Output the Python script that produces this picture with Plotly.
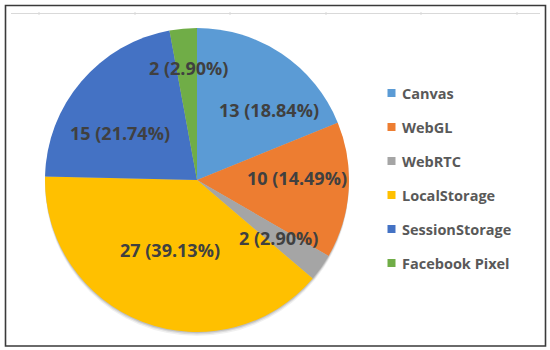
import math
import plotly.graph_objects as go

labels = ["Canvas", "WebGL", "WebRTC", "LocalStorage", "SessionStorage", "Facebook Pixel"]
values = [13, 10, 2, 27, 15, 2]
colors = ["#5B9BD5", "#ED7D31", "#A5A5A5", "#FFC000", "#4472C4", "#70AD47"]
# style: data label placement (fraction of radius, angular nudge in degrees)
label_radius = [0.66, 0.66, 0.66, 0.49, 0.59, 0.74]
label_nudge = [12, -5, 0, 0, -9, 1]

W, H = 550, 350
cx, cy, R = 197, 180, 152  # pixel geometry of pie
FONT = "Open Sans"


def px(x):
    return x / W


def py(y):
    return 1 - y / H


fig = go.Figure()
fig.add_trace(go.Pie(
    labels=labels,
    values=values,
    sort=False,
    direction="clockwise",
    rotation=0,
    marker=dict(colors=colors, line=dict(width=0)),
    textinfo="none",
    hoverinfo="label+value+percent",
    showlegend=False,
    domain=dict(x=[px(cx - R), px(cx + R)], y=[py(cy + R), py(cy - R)]),
))

annotations = []
total = sum(values)
cum = 0
for v, rf, nd in zip(values, label_radius, label_nudge):
    mid = (cum + v / 2) / total * 2 * math.pi + math.radians(nd)
    cum += v
    x = cx + rf * R * math.sin(mid)
    y = cy - rf * R * math.cos(mid)
    annotations.append(dict(
        x=px(x), y=py(y), xref="paper", yref="paper",
        text=f"{v} ({v / total * 100:.2f}%)", showarrow=False,
        font=dict(family=FONT, size=18, color="#404040", weight="bold"),
        xanchor="center", yanchor="middle",
    ))

shapes = []
# shadow under pie
for off, op in [(4, 0.06), (2.5, 0.09), (1.2, 0.12)]:
    shapes.append(dict(type="circle", xref="paper", yref="paper",
                       x0=px(cx - R), x1=px(cx + R),
                       y0=py(cy + R + off), y1=py(cy - R + off),
                       fillcolor=f"rgba(0,0,0,{op})", line=dict(width=0), layer="below"))

# custom legend
ly0, lstep = 93, 34
for i, (lab, col) in enumerate(zip(labels, colors)):
    y = ly0 + i * lstep
    shapes.append(dict(type="rect", xref="paper", yref="paper",
                       x0=px(387.5), x1=px(395.5), y0=py(y + 4), y1=py(y - 4),
                       fillcolor=col, line=dict(width=0)))
    annotations.append(dict(
        x=px(400), y=py(y), xref="paper", yref="paper", text=lab, showarrow=False,
        font=dict(family=FONT, size=14.5, color="#595959", weight="bold"),
        xanchor="left", yanchor="middle",
    ))

# faint axis line at top
shapes.append(dict(type="line", xref="paper", yref="paper", x0=px(11), x1=px(540),
                   y0=py(13.5), y1=py(13.5), line=dict(color="#D9D9D9", width=1)))
for tx in [39, 135, 230, 326, 421, 517]:
    shapes.append(dict(type="line", xref="paper", yref="paper", x0=px(tx), x1=px(tx),
                       y0=py(12), y1=py(15), line=dict(color="#D9D9D9", width=1)))

# outer border
shapes.append(dict(type="rect", xref="paper", yref="paper", x0=px(5.5), x1=px(545.5),
                   y0=py(346), y1=py(5.5), line=dict(color="#3A3A3A", width=1.6),
                   fillcolor="rgba(0,0,0,0)"))

fig.update_layout(
    width=W, height=H,
    margin=dict(l=0, r=0, t=0, b=0),
    paper_bgcolor="white", plot_bgcolor="white",
    annotations=annotations, shapes=shapes,
)

fig.write_html("out.html", config={"displayModeBar": False},
               post_script="document.body.style.margin='0';document.body.style.overflow='hidden';")
